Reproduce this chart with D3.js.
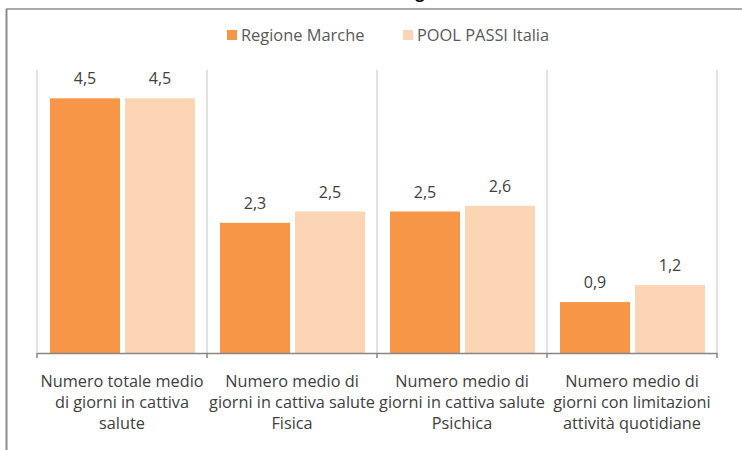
<!DOCTYPE html>
<html>
<head>
<meta charset="utf-8">
<script src="https://cdn.jsdelivr.net/npm/d3@7"></script>
<style>
  body { margin: 0; background: #fff; }
  svg { display: block; font-family: "Open Sans", sans-serif; }
</style>
</head>
<body>
<svg id="chart"></svg>
<script>
let categories = [
  ["Numero totale medio", "di giorni in cattiva", "salute"],
  ["Numero medio di", "giorni in cattiva salute", "Fisica"],
  ["Numero medio di", "giorni in cattiva salute", "Psichica"],
  ["Numero medio di", "giorni con limitazioni", "attività quotidiane"]
];
let seriesNames = ["Regione Marche", "POOL PASSI Italia"];
let regioneMarche = [4.5, 2.3, 2.5, 0.9];
let poolPassi = [4.5, 2.5, 2.6, 1.2];
let colors = ["#f79646", "#fcd5b5"];

let width = 742;
let height = 450;
let plotLeft = 37;
let plotRight = 717;
let plotTop = 70;
let plotBottom = 353;

let svg = d3.select("#chart").attr("width", width).attr("height", height);

// frame of the pasted chart (cut off on top/right)
svg.append("line").attr("x1", 6).attr("x2", width).attr("y1", 9).attr("y2", 9)
  .attr("stroke", "#8c8c8c").attr("stroke-width", 1.5);
svg.append("line").attr("x1", 6.5).attr("x2", 6.5).attr("y1", 9).attr("y2", height)
  .attr("stroke", "#8c8c8c").attr("stroke-width", 2);

// title row above the frame, mostly cut off
svg.append("text").attr("x", 390).attr("y", -2)
  .attr("font-weight", "bold").attr("font-size", 16).attr("fill", "#000")
  .text("(Regione Marche – dati PASSI 2016-2019)");

let idx = d3.range(categories.length);

let xScale = d3.scaleBand().domain(idx).range([plotLeft, plotRight]).padding(0);
let xInner = d3.scaleBand().domain([0, 1]).range([13, 158]).paddingInner(0.0667);
let yScale = d3.scaleLinear().domain([0, 5]).range([plotBottom, plotTop]);

// vertical gridlines between categories
let bounds = idx.map((i) => xScale(i)).concat([plotRight]);
svg.append("g").selectAll("line").data(bounds).enter().append("line")
  .attr("x1", (d) => d).attr("x2", (d) => d)
  .attr("y1", yScale(5)).attr("y2", plotBottom)
  .attr("stroke", "#d9d9d9").attr("stroke-width", 1.5);

// bars
let rows = idx.map((i) => [regioneMarche[i], poolPassi[i]]);
let groups = svg.append("g").selectAll("g").data(rows).enter().append("g")
  .attr("transform", (d, i) => "translate(" + xScale(i) + ",0)");

groups.selectAll("rect").data((d) => d).enter().append("rect")
  .attr("x", (d, j) => xInner(j))
  .attr("width", xInner.bandwidth())
  .attr("y", (d) => yScale(d))
  .attr("height", (d) => plotBottom - yScale(d))
  .attr("fill", (d, j) => colors[j]);

groups.selectAll("text").data((d) => d).enter().append("text")
  .attr("x", (d, j) => xInner(j) + xInner.bandwidth() / 2)
  .attr("y", (d) => yScale(d) - 14)
  .attr("text-anchor", "middle")
  .attr("font-size", 16)
  .attr("fill", "#404040")
  .text((d) => d3.format(".1f")(d).replace(".", ","));

// x axis
let xAxis = d3.axisBottom(xScale).tickSize(0).tickFormat("");
let axisG = svg.append("g").attr("transform", "translate(0," + plotBottom + ")").call(xAxis);
axisG.select(".domain").attr("stroke", "#868686").attr("stroke-width", 1.5);
axisG.selectAll(".tickmark").data(bounds).enter().append("line")
  .attr("class", "tickmark")
  .attr("x1", (d) => d).attr("x2", (d) => d)
  .attr("y1", 0).attr("y2", 5)
  .attr("stroke", "#868686").attr("stroke-width", 1.5);

// category labels
let labels = svg.append("g").selectAll("text").data(categories).enter().append("text")
  .attr("text-anchor", "middle")
  .attr("font-size", 16.3)
  .attr("fill", "#404040");
labels.selectAll("tspan").data((d) => d).enter().append("tspan")
  .attr("x", function () {
    let i = categories.indexOf(d3.select(this.parentNode).datum());
    return xScale(i) + xScale.bandwidth() / 2;
  })
  .attr("y", (d, k) => 387 + k * 21)
  .text((d) => d);

// legend
let legendX = [227, 403];
let legend = svg.append("g").selectAll("g").data(seriesNames).enter().append("g")
  .attr("transform", (d, i) => "translate(" + legendX[i] + ",30)");
legend.append("rect").attr("width", 10).attr("height", 10)
  .attr("fill", (d, i) => colors[i]);
legend.append("text").attr("x", 14).attr("y", 10.5)
  .attr("font-size", 16.4).attr("fill", "#595959")
  .text((d) => d);
</script>
</body>
</html>
